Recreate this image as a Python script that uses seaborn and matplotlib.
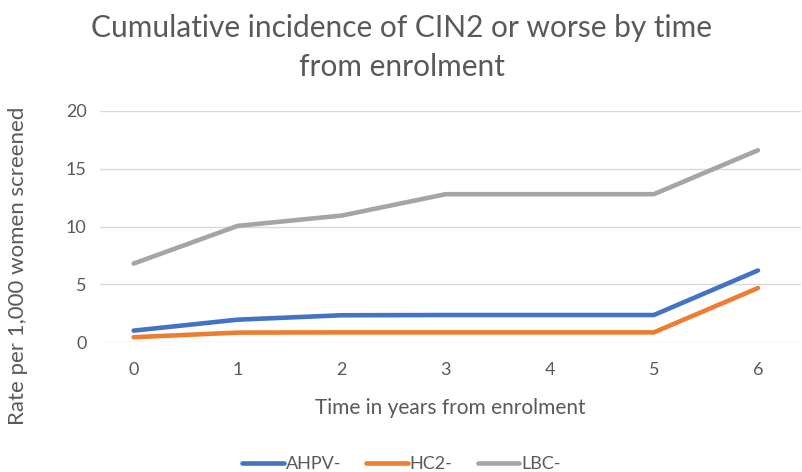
import pandas as pd
import matplotlib.pyplot as plt
import seaborn as sns

years = [0, 1, 2, 3, 4, 5, 6]
ahpv = [1.0, 1.95, 2.33, 2.35, 2.35, 2.35, 6.2]
hc2 = [0.43, 0.83, 0.85, 0.85, 0.85, 0.85, 4.68]
lbc = [6.8, 10.06, 10.95, 12.8, 12.8, 12.8, 16.6]
series = ['AHPV-', 'HC2-', 'LBC-']
colors = ['#4472C4', '#ED7D31', '#A5A5A5']

df = pd.DataFrame({'year': years * 3,
                   'rate': ahpv + hc2 + lbc,
                   'test': [s for s in series for _ in years]})

sns.set_theme(style='white')
plt.rcParams['font.family'] = ['Lato', 'DejaVu Sans']
grey = '#595959'

fig = plt.figure(figsize=(8.03, 4.72), dpi=100)
ax = fig.add_axes([0.125, 0.275, 0.872, 0.49])

sns.lineplot(data=df, x='year', y='rate', hue='test', palette=colors,
             linewidth=3.3, ax=ax, legend=False)

ax.set_xlim(-0.32, 6.41)
ax.set_ylim(0, 20)
ax.set_yticks([0, 5, 10, 15, 20])
ax.set_xticks(years)
ax.grid(axis='y', color='#D9D9D9', linewidth=1)
ax.set_axisbelow(True)
for sp in ax.spines.values():
    sp.set_visible(False)
ax.tick_params(axis='both', length=0, labelsize=13, labelcolor=grey)
ax.tick_params(axis='x', pad=14)
ax.tick_params(axis='y', pad=10)

ax.set_xlabel('Time in years from enrolment', fontsize=15, color=grey, labelpad=15)
ax.set_ylabel('Rate per 1,000 women screened', fontsize=16, color=grey)
ax.yaxis.set_label_coords(-0.103, 0.33)

fig.suptitle('Cumulative incidence of CIN2 or worse by time\nfrom enrolment',
             fontsize=21.5, color=grey, x=0.5, y=0.97, linespacing=1.45)

handles = [plt.Line2D([], [], color=c, linewidth=3.3) for c in colors]
fig.legend(handles, series, loc='lower center', ncol=3, frameon=False,
           bbox_to_anchor=(0.5, -0.035), fontsize=13, labelcolor=grey,
           handlelength=2.3, handletextpad=0.1, columnspacing=1.4)

fig.savefig('out.png', dpi=100)
